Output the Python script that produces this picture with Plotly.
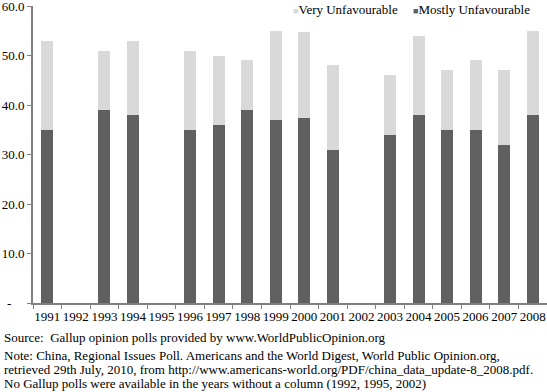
import plotly.graph_objects as go

years = ["1991", "1992", "1993", "1994", "1995", "1996", "1997", "1998", "1999",
         "2000", "2001", "2002", "2003", "2004", "2005", "2006", "2007", "2008"]
mostly = [35, None, 39, 38, None, 35, 36, 39, 37, 37.3, 31, None, 34, 38, 35, 35, 32, 38]
very = [18, None, 12, 15, None, 16, 14, 10, 18, 17.4, 17, None, 12, 16, 12, 14, 15, 17]

ytick_vals = [0, 10, 20, 30, 40, 50, 60]
ytick_text = ["-\u00a0\u00a0\u00a0\u00a0", "10.0", "20.0", "30.0", "40.0", "50.0", "60.0"]

notes = [
    "Source:  Gallup opinion polls provided by www.WorldPublicOpinion.org",
    "Note: China, Regional Issues Poll. Americans and the World Digest, World Public Opinion.org,",
    "retrieved 29th July, 2010, from http://www.americans-world.org/PDF/china_data_update-8_2008.pdf.",
    "No Gallup polls were available in the years without a column (1992, 1995, 2002)",
]

DARK = "#606060"
LIGHT = "#d9d9d9"
FONT = "Liberation Serif, Times New Roman, serif"
W, H = 547, 392
L, R, T, B = 33, 0, 6, 89
PW, PH = W - L - R, H - T - B

fig = go.Figure()
fig.add_trace(go.Bar(x=years, y=mostly, name="Mostly Unfavourable",
                     marker=dict(color=DARK, line=dict(width=0)), showlegend=False))
fig.add_trace(go.Bar(x=years, y=very, name="Very Unfavourable",
                     marker=dict(color=LIGHT, line=dict(width=0)), showlegend=False))

line_ys = [337, 355, 369, 383]
annotations = []
for txt, py in zip(notes, line_ys):
    annotations.append(dict(
        text=txt, xref="paper", yref="paper",
        x=(2 - L) / PW, y=(H - B - py) / PH,
        xanchor="left", yanchor="middle", showarrow=False,
        font=dict(family=FONT, size=13, color="black"), align="left"))

# legend-style labels (series names taken from the traces)
leg_items = [(fig.data[1].name, LIGHT, 291), (fig.data[0].name, DARK, 411)]
for name, col, px in leg_items:
    annotations.append(dict(
        text=f"<span style='color:{col};font-size:9px'>\u25a0</span>{name}",
        xref="paper", yref="paper",
        x=(px - L) / PW, y=(H - B - 0) / PH,
        xanchor="left", yanchor="top", showarrow=False,
        font=dict(family=FONT, size=13, color="black"), align="left"))

fig.update_layout(
    width=W, height=H,
    margin=dict(l=L, r=R, t=T, b=B, autoexpand=False),
    barmode="stack", bargap=0.58,
    plot_bgcolor="white", paper_bgcolor="white",
    font=dict(family=FONT, size=13, color="black"),
    showlegend=False,
    xaxis=dict(type="category", showgrid=False, showline=True,
               linecolor="#808080", linewidth=2, automargin=False,
               ticks="outside", tickson="boundaries", ticklen=4,
               tickcolor="#808080", tickwidth=1, tickangle=0,
               ticklabeloverflow="allow",
               tickfont=dict(family=FONT, size=13, color="black")),
    yaxis=dict(range=[0, 60], tickvals=ytick_vals, ticktext=ytick_text,
               showgrid=False, showline=True, linecolor="#808080", linewidth=2,
               ticks="outside", ticklen=4, tickcolor="#808080", tickwidth=1,
               zeroline=False, automargin=False, ticklabeloverflow="allow",
               tickfont=dict(family=FONT, size=13, color="black")),
    annotations=annotations,
)

fig.write_html("out.html", config={"displayModeBar": False},
               post_script="document.body.style.margin='0';document.body.style.overflow='hidden';")
